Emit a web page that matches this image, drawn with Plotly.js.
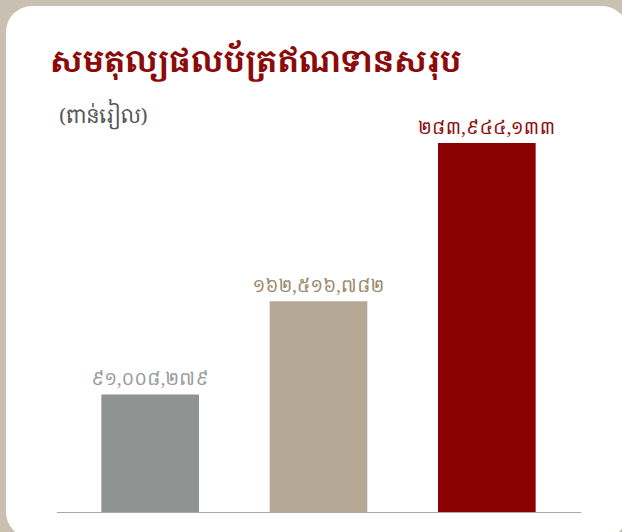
<!DOCTYPE html>
<html>
<head>
<meta charset="utf-8">
<script src="https://cdn.plot.ly/plotly-3.0.1.min.js"></script>
<style>
  html, body { margin: 0; padding: 0; width: 622px; height: 532px; overflow: hidden; background: #c9c0b2; }
  #card { position: absolute; left: 6px; top: 6px; width: 622px; height: 532px; background: #ffffff; border-radius: 26px; }
  #chart { position: absolute; left: 0; top: 0; width: 622px; height: 532px; }
</style>
</head>
<body>
<div id="card"></div>
<div id="chart"></div>
<script>
const categories = ["A", "B", "C"];
const values = [91008279, 162516782, 283944133];
const valueLabels = ["៩១,០០៨,២៧៩", "១៦២,៥១៦,៧៨២", "២៨៣,៩៤៤,១៣៣"];
const barColors = ["#8f9392", "#b5a895", "#8b0000"];
const labelColors = ["#9a9c9b", "#9c8a6c", "#8b1010"];
const titleText = "សមតុល្យផលប័ត្រឥណទានសរុប";
const unitText = "(ពាន់រៀល)";

const KHMER = "'Noto Serif Khmer', 'Khmer OS Battambang', 'Noto Sans Khmer', serif";

const trace = {
  type: "bar",
  x: categories,
  y: values,
  marker: { color: barColors },
  hoverinfo: "none"
};

const plotTop = 122, plotBottom = 513;
const labelAnnotations = categories.map((c, i) => ({
  x: c, y: values[i], xref: "x", yref: "y", xanchor: "center", yanchor: "middle", yshift: 16,
  text: valueLabels[i], showarrow: false,
  font: { family: KHMER, size: 18, color: labelColors[i] }
}));

const layout = {
  width: 622,
  height: 532,
  paper_bgcolor: "rgba(0,0,0,0)",
  plot_bgcolor: "rgba(0,0,0,0)",
  margin: { l: 66, r: 51, t: plotTop, b: 532 - plotBottom },
  bargap: 0.42,
  showlegend: false,
  xaxis: { showticklabels: false, showgrid: false, zeroline: false, showline: false, ticks: "" },
  yaxis: { range: [0, 300000000], showticklabels: false, showgrid: false, zeroline: false, showline: false, ticks: "" },
  shapes: [
    { type: "line", xref: "paper", yref: "y", x0: -0.018, x1: 1.02, y0: 0, y1: 0, line: { color: "#a8a8a8", width: 2 } }
  ],
  title: { text: titleText, x: 50/622, xanchor: "left", xref: "container", y: 1 - 61/532, yanchor: "middle", yref: "container",
           font: { family: KHMER, size: 31, color: "#8b0a0a", weight: 700 } },
  annotations: [
    { xref: "paper", yref: "paper", x: (57-66)/505, y: 1 + (plotTop-114)/(plotBottom-plotTop), xanchor: "left", yanchor: "middle",
      text: unitText, showarrow: false, font: { family: KHMER, size: 20, color: "#555555" } }
  ].concat(labelAnnotations)
};

Plotly.newPlot("chart", [trace], layout, { displayModeBar: false, staticPlot: true });
</script>
</body>
</html>
